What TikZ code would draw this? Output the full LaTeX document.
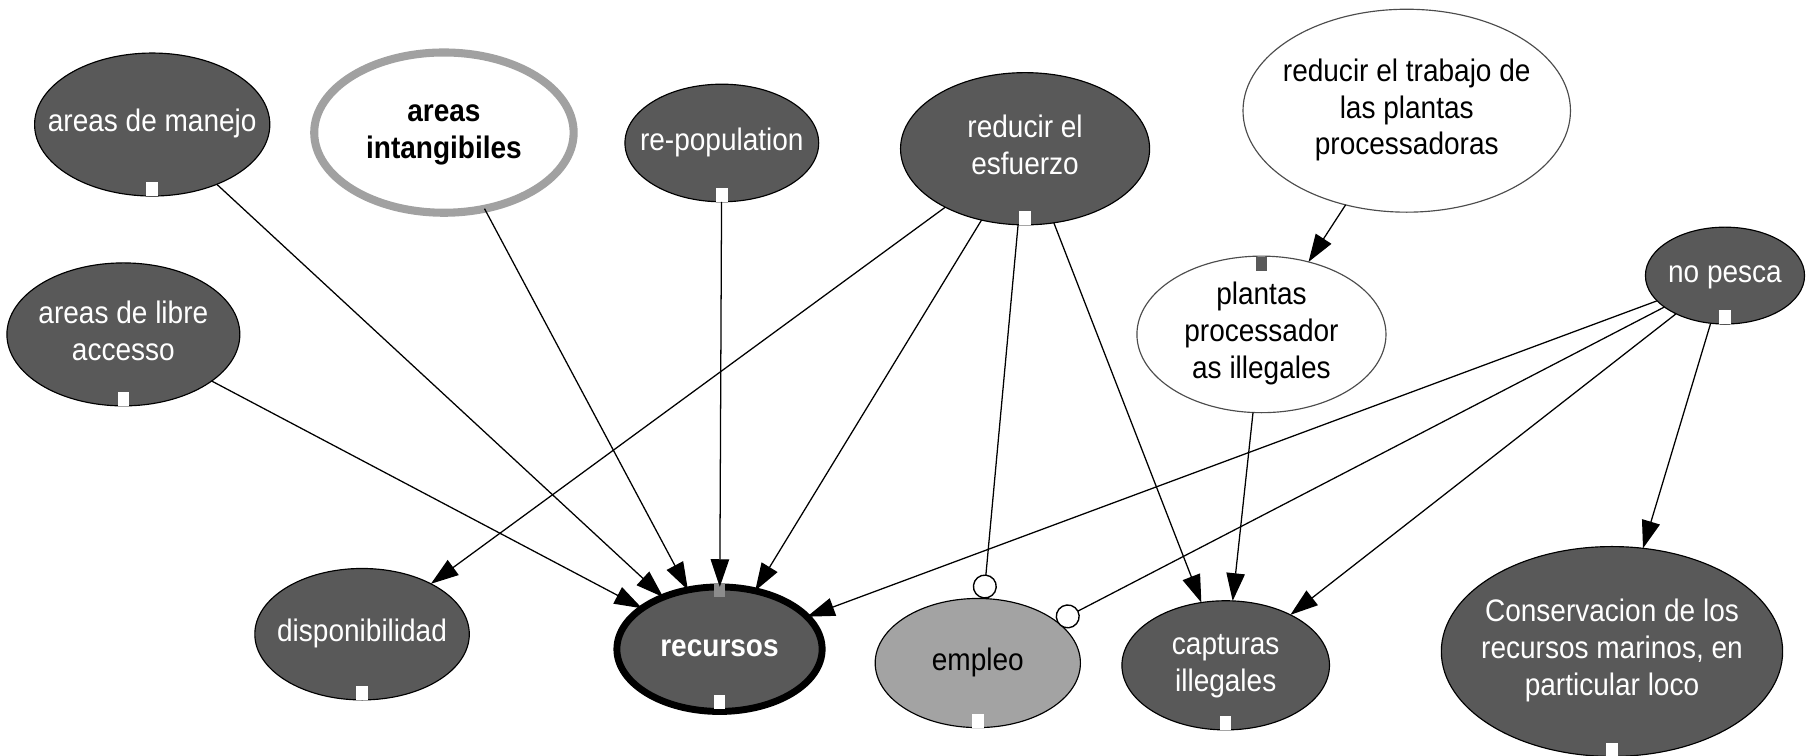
\documentclass[tikz,border=0pt]{standalone}
\usepackage{fontspec}
\setmainfont{Liberation Sans}[FakeStretch=0.9]
\usetikzlibrary{arrows.meta,shapes.geometric}
\newcommand\nodetxt[1]{\makebox[0pt]{\begin{tabular}{@{}c@{}}#1\end{tabular}}}
\begin{document}
\begin{tikzpicture}[x=0.5pt,y=-0.5pt,
  font=\fontsize{13.5}{16}\selectfont,
  base/.style={ellipse, inner sep=0pt, outer sep=0pt},
  dark/.style={base, draw=black, line width=0.5pt, fill=black!65, text=white},
  light/.style={base, draw=black!70, line width=0.5pt, fill=white, text=black},
  ring/.style={base, draw=black!37, line width=3.5pt, fill=white, text=black, font=\fontsize{13.5}{16}\selectfont\bfseries},
  thickb/.style={base, draw=black, line width=3pt, fill=black!65, text=white, font=\fontsize{13.5}{16}\selectfont\bfseries},
  midgray/.style={base, draw=black, line width=0.5pt, fill=black!36, text=black},
  arr/.style={line width=0.55pt, -{Triangle[length=12pt,width=8pt]}},
  circ/.style={line width=0.55pt, -{Circle[length=10.5pt,width=10.5pt,fill=white,line width=0.6pt]}},
  port/.style={fill=white},
]
\useasboundingbox (0,0) rectangle (1568,655);

\node[dark, minimum width=102pt, minimum height=62pt] (manejo) at (132,108) {\nodetxt{areas de manejo}};
\node[ring, minimum width=112.5pt, minimum height=69.5pt] (intang) at (385,115) {\nodetxt{areas\\intangibiles}};
\node[dark, minimum width=84pt, minimum height=51pt] (repop) at (626,124) {\nodetxt{re-population}};
\node[dark, minimum width=108pt, minimum height=66pt] (esfuerzo) at (889,129) {\nodetxt{reducir el\\esfuerzo}};
\node[light, minimum width=142pt, minimum height=88pt] (trabajo) at (1220,96) {\nodetxt{reducir el trabajo de\\las plantas\\processadoras}};
\node[light, minimum width=108pt, minimum height=66pt] (plantas) at (1094,290) {\nodetxt{plantas\\processador\\as illegales}};
\node[dark, minimum width=69pt, minimum height=42pt] (nopesca) at (1496,239) {\nodetxt{no pesca}};
\node[dark, minimum width=101pt, minimum height=62pt] (libre) at (107,290) {\nodetxt{areas de libre\\accesso}};
\node[dark, minimum width=93pt, minimum height=57pt] (dispon) at (314,550) {\nodetxt{disponibilidad}};
\node[thickb, minimum width=89pt, minimum height=54pt] (recursos) at (624,563) {\nodetxt{recursos}};
\node[midgray, minimum width=89pt, minimum height=56pt] (empleo) at (848,575) {\nodetxt{empleo}};
\node[dark, minimum width=90pt, minimum height=56pt] (capturas) at (1063,577) {\nodetxt{capturas\\illegales}};
\node[dark, minimum width=148pt, minimum height=91pt] (conserv) at (1398,565) {\nodetxt{Conservacion de los\\recursos marinos, en\\particular loco}};

% port squares
\foreach \n in {manejo,repop,esfuerzo,libre,nopesca,dispon,empleo,capturas,conserv}
  \fill[port] ([xshift=-2.5pt]\n.south) rectangle ++(5pt,6pt);
\fill[port] ([xshift=-2.5pt,yshift=1pt]recursos.south) rectangle ++(5pt,6pt);
\fill[black!45] ([xshift=-2.5pt,yshift=1.5pt]recursos.north) rectangle ++(5pt,-6pt);
\fill[black!65] ([xshift=-2.5pt,yshift=-0.5pt]plantas.north) rectangle ++(5pt,-6pt);

% connectors
\draw[arr] (manejo) -- (recursos);
\draw[arr] (intang) -- (recursos);
\draw[arr] (repop) -- (recursos);
\draw[arr] (esfuerzo) -- (recursos);
\draw[arr] (esfuerzo) -- (dispon);
\draw[circ] (esfuerzo) -- (empleo);
\draw[arr] (esfuerzo) -- (capturas);
\draw[arr] (libre) -- (recursos);
\draw[arr] (trabajo) -- (plantas);
\draw[arr] (plantas) -- (capturas);
\draw[arr] (nopesca) -- (recursos);
\draw[circ] (nopesca) -- (empleo);
\draw[arr] (nopesca) -- (capturas);
\draw[arr] (nopesca) -- (conserv);
\end{tikzpicture}
\end{document}
